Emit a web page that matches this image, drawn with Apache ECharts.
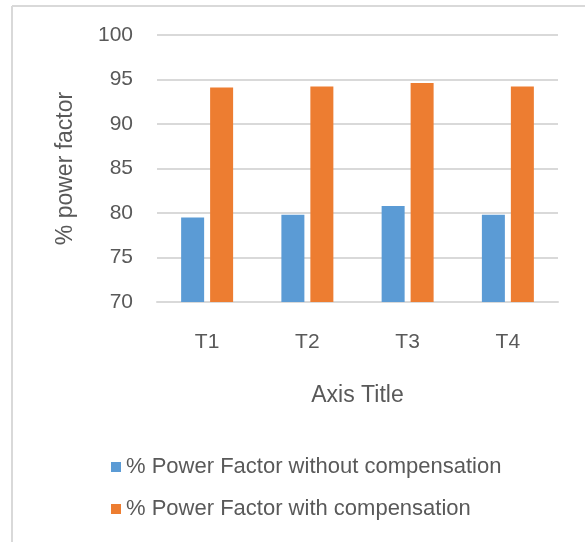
<!DOCTYPE html>
<html>
<head>
<meta charset="utf-8">
<script src="https://cdn.jsdelivr.net/npm/echarts@6/dist/echarts.min.js"></script>
<style>
  html, body { margin: 0; padding: 0; background: #fff; }
  #chart { width: 585px; height: 542px; }
</style>
</head>
<body>
<div id="chart"></div>
<script>
var categories = ['T1', 'T2', 'T3', 'T4'];
var withoutComp = [79.5, 79.8, 80.8, 79.8];
var withComp = [94.1, 94.2, 94.6, 94.2];
var seriesNames = ['% Power Factor without compensation', '% Power Factor with compensation'];

var textColor = '#595959';
var fontFam = '"Liberation Sans", Arial, sans-serif';

var chart = echarts.init(document.getElementById('chart'));
chart.setOption({
	animation: false,
	textStyle: { fontFamily: fontFam },
	graphic: [
		// chart area frame (top and left edge only)
		{ type: 'line', shape: { x1: 12, y1: 6, x2: 585, y2: 6 }, style: { stroke: '#d9d9d9', lineWidth: 2 } },
		{ type: 'line', shape: { x1: 12, y1: 6, x2: 12, y2: 542 }, style: { stroke: '#d9d9d9', lineWidth: 2 } }
	],
	grid: { left: 157, right: 27, top: 35, bottom: 240 },
	legend: {
		orient: 'vertical',
		left: 106,
		top: 451,
		itemWidth: 10,
		itemHeight: 10,
		itemGap: 20,
		icon: 'rect',
		textStyle: { color: textColor, fontSize: 22, fontFamily: fontFam },
		data: seriesNames
	},
	xAxis: {
		type: 'category',
		data: categories,
		name: 'Axis Title',
		nameLocation: 'middle',
		nameGap: 82,
		nameTextStyle: { color: textColor, fontSize: 23 },
		axisLine: { lineStyle: { color: '#d9d9d9', width: 2 } },
		axisTick: { show: false },
		axisLabel: { color: textColor, fontSize: 21, margin: 30 },
		z: 1
	},
	yAxis: {
		type: 'value',
		min: 70,
		max: 100,
		interval: 5,
		name: '% power factor',
		nameLocation: 'middle',
		nameGap: 80,
		nameTextStyle: { color: textColor, fontSize: 23 },
		axisLine: { show: false },
		axisTick: { show: false },
		axisLabel: { color: textColor, fontSize: 21, margin: 24 },
		splitLine: { lineStyle: { color: '#d9d9d9', width: 2 } }
	},
	series: [
		{
			name: seriesNames[0],
			type: 'bar',
			data: withoutComp,
			barWidth: 23,
			barGap: '26%',
			itemStyle: { color: '#5b9bd5' }
		},
		{
			name: seriesNames[1],
			type: 'bar',
			data: withComp,
			barWidth: 23,
			itemStyle: { color: '#ed7d31' }
		}
	]
});
window.onresize = chart.resize;
</script>
</body>
</html>
